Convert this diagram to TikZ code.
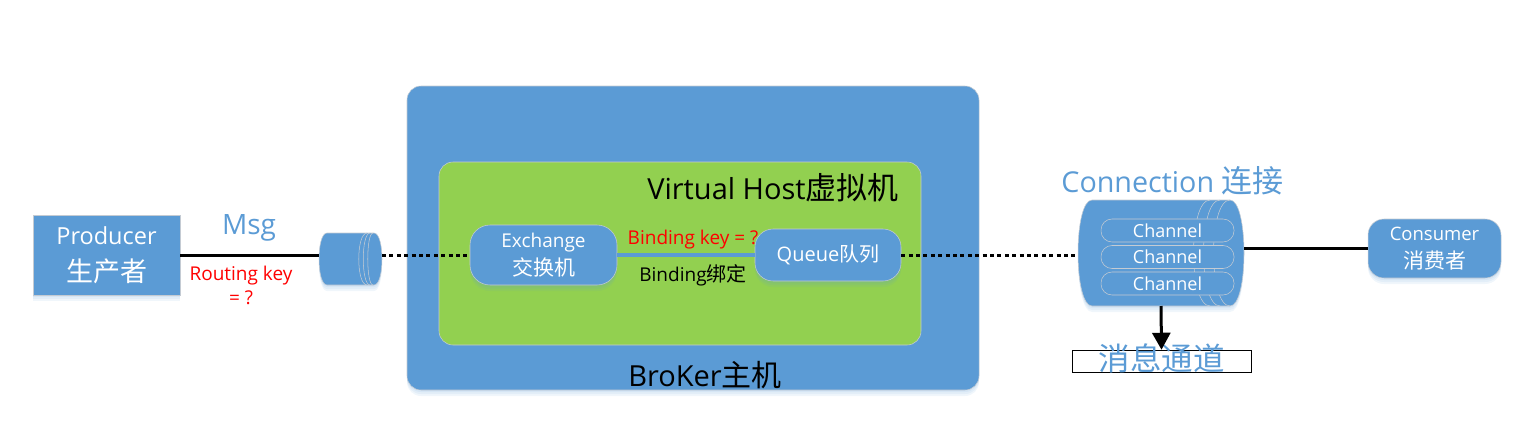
\documentclass[tikz,border=0pt]{standalone}
\usepackage{fontspec}
\setmainfont{Open Sans}
\newfontfamily\cjk{Noto Sans CJK SC}
\usetikzlibrary{calc,positioning,arrows.meta,shadows}
\newdimen\px \px=0.75pt
\definecolor{boxblue}{HTML}{5B9BD5}
\definecolor{hostgreen}{HTML}{92D050}
\definecolor{edgegray}{HTML}{C4CBD3}
\newcommand{\fsize}[1]{\fontsize{#1\px}{#1\px}\selectfont}
% body of a lying drum, with its end rings
\newcommand{\drum}[2]{
  \foreach \s in {2,4,6}
  \fill[boxblue,opacity=.09] ($(#1.north west)+(#2,\s)$) -- ($(#1.north east)+(-#2,\s)$)
    .. controls ($(#1.north east)+(#2/3,\s)$) and ($(#1.south east)+(#2/3,\s)$) .. ($(#1.south east)+(-#2,\s)$)
    -- ($(#1.south west)+(#2,\s)$)
    .. controls ($(#1.south west)+(-#2/3,\s)$) and ($(#1.north west)+(-#2/3,\s)$) .. cycle;
  \draw[draw=edgegray,fill=boxblue,thin] ($(#1.north west)+(#2,0)$) -- ($(#1.north east)+(-#2,0)$)
    .. controls ($(#1.north east)+(#2/3,0)$) and ($(#1.south east)+(#2/3,0)$) .. ($(#1.south east)+(-#2,0)$)
    -- ($(#1.south west)+(#2,0)$)
    .. controls ($(#1.south west)+(-#2/3,0)$) and ($(#1.north west)+(-#2/3,0)$) .. cycle;
}
\newcommand{\drumring}[3]{
  \draw[edgegray,thin] ($(#1.north east)+(-#2,0)$)
    .. controls ($(#1.north east)+(-#3,0)$) and ($(#1.south east)+(-#3,0)$) .. ($(#1.south east)+(-#2,0)$);
}
\tikzset{
  blk/.style={draw=edgegray,fill=boxblue,thin,text=white,align=center,inner sep=0pt,
    drop shadow={shadow xshift=0pt,shadow yshift=-2\px,fill=boxblue,opacity=.09},
    drop shadow={shadow xshift=0pt,shadow yshift=-4\px,fill=boxblue,opacity=.09},
    drop shadow={shadow xshift=0pt,shadow yshift=-6\px,fill=boxblue,opacity=.09}},
  hold/.style={inner sep=0pt,outer sep=0pt},
  pill/.style={draw=edgegray,fill=boxblue,thin,text=white,rounded corners=11\px,inner sep=0pt,
    minimum width=133\px,minimum height=23\px,font=\fsize{18}},
  wire/.style={line width=3\px},
  dots/.style={line width=3\px,dash pattern=on 4\px off 3.4\px},
  caption/.style={text=boxblue,inner sep=0pt},
}
\begin{document}
\begin{tikzpicture}[x=\px,y=-\px]
  \useasboundingbox (0,0) rectangle (1540,447);
  % broker and virtual host
  \node[blk,rounded corners=14\px,minimum width=572\px,minimum height=304\px] (broker) at (693,238) {};
  \node[draw=edgegray,fill=hostgreen,thin,rounded corners=14\px,minimum width=482\px,minimum height=183\px] (vhost) at (680,253.5) {};
  \node[inner sep=0pt,font=\fsize{29}] (brokertxt) at (705,375) {BroKer{\cjk\fsize{30}主机}};
  \node[inner sep=0pt,font=\fsize{29}] (vhosttxt) at (773,188) {Virtual Host{\cjk\fsize{31}虚拟机}};

  % producer side
  \node[blk,minimum width=147\px,minimum height=80\px,font=\fsize{23.5}] (producer) at (106.5,255) {\raisebox{2\px}{Producer}\\[11\px]{\cjk\fsize{27}生产者}};
  \node[hold,minimum width=63\px,minimum height=52\px] (msgpipe) at (350.5,259) {};
  \drum{msgpipe}{8}
  \drumring{msgpipe}{15}{26}
  \drumring{msgpipe}{12}{21}
  \drumring{msgpipe}{9}{16}
  \node[caption,font=\fsize{28}] (msg) at (249,228) {Msg};
  \node[text=red,inner sep=0pt,align=center,font=\fsize{19}] (rkey) at (241,285) {Routing key\\[5\px]= ?};

  % exchange and queue
  \node[blk,rounded corners=20\px,minimum width=147\px,minimum height=60\px,font=\fsize{19}] (exchange) at (543.5,255) {Exchange\\[4\px]{\cjk\fsize{21}交换机}};
  \node[blk,rounded corners=18\px,minimum width=146\px,minimum height=52\px,font=\fsize{20}] (queue) at (828,255) {Queue{\cjk 队列}};
  \node[text=red,inner sep=0pt,font=\fsize{19}] (bkey) at (693,240) {Binding key = ?};
  \node[inner sep=0pt,font=\fsize{19}] (binding) at (693,275) {Binding{\cjk\fsize{20}绑定}};

  % connection side
  \node[hold,minimum width=166\px,minimum height=106\px] (conn) at (1161,253) {};
  \drum{conn}{14}
  \drumring{conn}{34}{56}
  \drumring{conn}{24}{46}
  \drumring{conn}{14}{36}
  \node[pill] (ch1) at (1167.5,230.5) {Channel};
  \node[pill] (ch2) at (1167.5,257) {Channel};
  \node[pill] (ch3) at (1167.5,283.5) {Channel};
  \node[caption,font=\fsize{28.7}] (conntxt) at (1172.5,181) {Connection {\cjk\fsize{31}连接}};
  \node[blk,rounded corners=16\px,minimum width=133\px,minimum height=59\px,font=\fsize{18.5}] (consumer) at (1434.5,248.5) {\raisebox{2\px}{Consumer}\\[7\px]{\cjk\fsize{21}消费者}};
  \node[draw=black,fill=white,thin,minimum width=179\px,inner sep=0pt,text height=20\px,text depth=2\px,text=boxblue,font=\cjk\fsize{31.5}] (chanbox) at (1161.5,361) {消息通道};

  % links
  \draw[wire] (producer.east) -- (producer.east -| msgpipe.west);
  \draw[dots] (producer.east -| msgpipe.east) -- (exchange.west);
  \draw[boxblue,line width=4\px] (exchange.east) -- (queue.west);
  \draw[dots] (queue.east) -- (queue.east -| conn.west);
  \draw[wire] (conn.east |- consumer.west) -- (consumer.west);
  \draw[wire,-{Triangle[width=13.5pt,length=12.75pt]}] (conn.south) -- (chanbox.north);
\end{tikzpicture}
\end{document}
